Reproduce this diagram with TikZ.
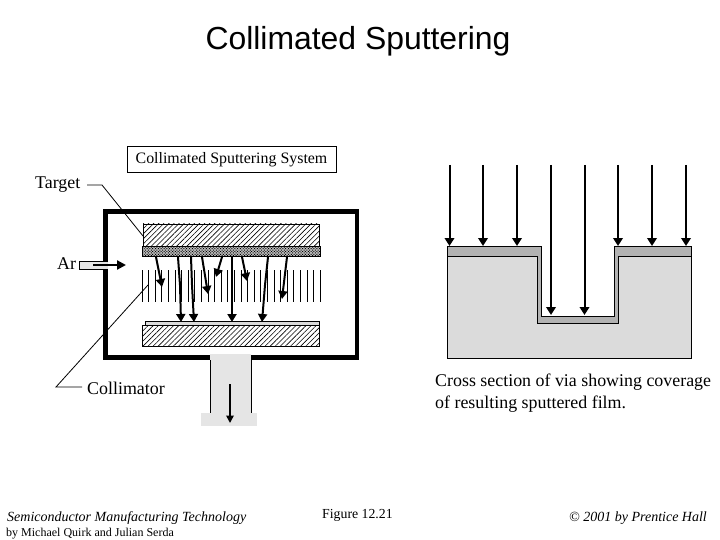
\documentclass[tikz,border=0pt]{standalone}
\usepackage{fontspec}
\setmainfont{Liberation Serif}
\newfontfamily\titlefont{Liberation Sans}
\usetikzlibrary{arrows.meta,patterns,patterns.meta}
\definecolor{subsgray}{gray}{.86}
\definecolor{filmgray}{gray}{.70}
\definecolor{portgray}{gray}{.90}
\tikzset{
  lbl/.style={inner sep=0pt,anchor=west,font=\fontsize{17.9}{20}\selectfont},
  foot/.style={inner sep=0pt,anchor=west},
  hatch/.style={draw=black,line width=.9pt,pattern={Lines[angle=45,distance=3.6pt,line width=.6pt]}},
  dots/.style={draw=black,line width=.9pt,preaction={fill=gray!55},pattern={Dots[angle=45,distance=2pt,radius=.7pt]}},
  wall/.style={draw=black,line width=4.6pt},
  thin/.style={draw=black,line width=.8pt},
  vane/.style={draw=black,line width=.9pt},
  atom/.style={draw=black,line width=2pt,-{Triangle[length=8pt,width=9pt]}},
  beam/.style={draw=black,line width=2pt,-{Triangle[length=8pt,width=9.5pt]}},
  subs/.style={draw=black,line width=.9pt,fill=subsgray},
  film/.style={draw=black,line width=.9pt,fill=filmgray},
}
\begin{document}
\begin{tikzpicture}[x=1pt,y=-1pt]
\useasboundingbox (0,0) rectangle (720,540);
\node (title) at (358,41) [inner sep=0pt,font=\titlefont\fontsize{31.9}{36}\selectfont] {Collimated Sputtering};
\node (sys) at (231.5,159) [draw=black,line width=.9pt,minimum width=209pt,minimum height=26pt,inner sep=0pt,font=\fontsize{15.9}{18}\selectfont] {\raisebox{-5pt}[0pt][0pt]{Collimated Sputtering System}};
\node (target) at (35,185) [lbl] {Target};
\node (ar) at (57,264) [lbl] {Ar};
\node (coll) at (87,388.5) [lbl] {Collimator};
\node (cross) at (435,382) [lbl] {Cross section of via showing coverage};
\node (res) at (435,404) [lbl] {of resulting sputtered film.};
\node (semi) at (7,518) [foot,font=\itshape\fontsize{14}{16}\selectfont] {Semiconductor Manufacturing Technology};
\node (auth) at (6,534) [foot,font=\fontsize{12}{14}\selectfont] {by Michael Quirk and Julian Serda};
\node (fig) at (322,515) [foot,font=\fontsize{13.8}{16}\selectfont] {Figure 12.21};
\node (copy) at (569,518) [foot,font=\itshape\fontsize{14}{16}\selectfont] {© 2001 by Prentice Hall};
% chamber
\draw[wall] (105.5,211.5) rectangle (357,357.5);
% exhaust
\fill[portgray] (210,354) rectangle (251,413);
\fill[portgray] (201,413) rectangle (257,426);
\draw[thin] (210,360) -- (210,413) (251,360) -- (251,413);
\coordinate (e1) at (230,384); \coordinate (e2) at (230,423);
\draw[draw=black,line width=1.7pt,-{Triangle[length=7.5pt,width=7.5pt]}] (e1) -- (e2);
% target
\draw[hatch] (143,224) rectangle (319,246);
\draw[dots] (142,246) rectangle (320,256);
% substrate
\draw[draw=black,line width=.9pt,fill=subsgray] (145,321) rectangle (319,325);
\draw[hatch] (142,325) rectangle (319,346);
% collimator vanes
\foreach \k in {0,...,27}{\draw[vane] ({142+6.6*\k},270) -- ({142+6.6*\k},302);}
% atoms
\coordinate (a1) at (156,257); \coordinate (b1) at (162,287);
\coordinate (a2) at (178,257); \coordinate (m2) at (180,285); \coordinate (b2) at (181,322);
\coordinate (a3) at (191,257); \coordinate (m3) at (192,285); \coordinate (b3) at (194,322);
\coordinate (a4) at (202,257); \coordinate (b4) at (208,294);
\coordinate (a5) at (222,257); \coordinate (b5) at (216,277);
\coordinate (a6) at (232,257); \coordinate (b6) at (232,322);
\coordinate (a7) at (242,257); \coordinate (b7) at (247,281);
\coordinate (a8) at (268,257); \coordinate (m8) at (265,285); \coordinate (b8) at (262,322);
\coordinate (a9) at (287,257); \coordinate (b9) at (282,299);
\foreach \i in {1,4,5,6,7,9}{\draw[atom] (a\i) -- (b\i);}
\foreach \i in {2,3,8}{\draw[atom] (a\i) -- (m\i) -- (b\i);}
% Ar pipe
\draw[draw=black,line width=.8pt,fill=portgray] (108,261.5) -- (79,261.5) -- (79,269) -- (108,269);
\fill[portgray] (103,262) rectangle (108,268.6);
\coordinate (p1) at (93,265); \coordinate (p2) at (126,265);
\draw[draw=black,line width=2.2pt,-{Triangle[length=9pt,width=9pt]}] (p1) -- (p2);
% leaders
\coordinate (t1) at (87,185); \coordinate (t2) at (102,185); \coordinate (t3) at (143,236);
\draw[thin] (t1) -- (t2) -- (t3);
\coordinate (c1) at (82,387); \coordinate (c2) at (56,387); \coordinate (c3) at (148,285);
\draw[thin] (c1) -- (c2) -- (c3);
% via
\draw[subs] (447,256) -- (537,256) -- (537,323) -- (618,323) -- (618,256) -- (691,256) -- (691,358) -- (447,358) -- cycle;
\draw[film] (447,246) -- (541,246) -- (541,316) -- (614,316) -- (614,246) -- (691,246) -- (691,256) -- (618,256) -- (618,323) -- (537,323) -- (537,256) -- (447,256) -- cycle;
\foreach \x/\e in {449.5/246,483/246,517/246,551/315,584.5/315,618/246,652/246,686/246}{
  \coordinate (s) at (\x,165); \coordinate (d) at (\x,\e);
  \draw[beam] (s) -- (d);}
\end{tikzpicture}
\end{document}
